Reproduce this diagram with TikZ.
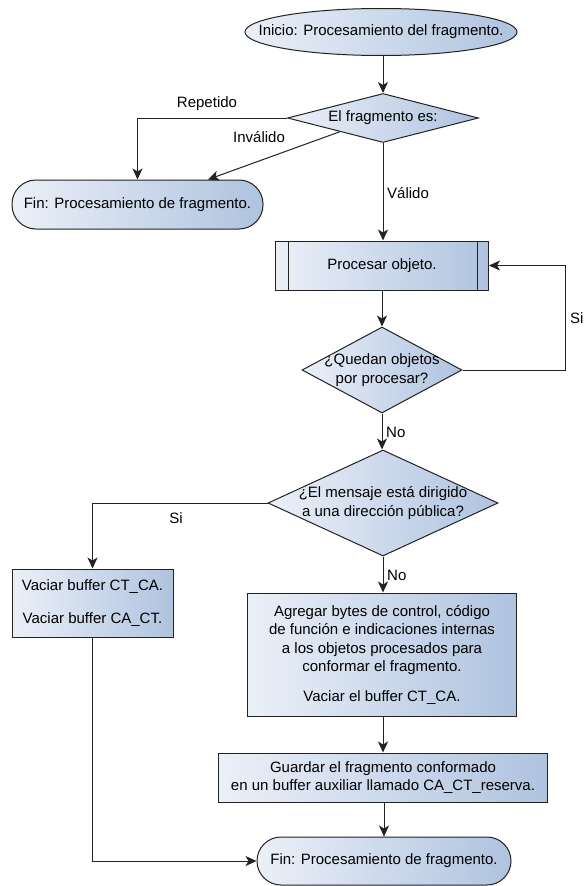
\documentclass[tikz,border=0pt]{standalone}
\usepackage{fontspec}
\setmainfont{Liberation Sans}
\usetikzlibrary{shapes.geometric,arrows.meta,calc}
\definecolor{lc}{HTML}{222222}
\definecolor{fa}{HTML}{EBF0F8}
\definecolor{fb}{HTML}{AFC3DF}
\tikzset{
  shp/.style={draw=lc, line width=1pt, left color=fa, right color=fb, inner sep=0pt, align=center,
    font=\fontsize{15}{18.5}\selectfont},
  boxn/.style={shp, rectangle},
  termn/.style={shp, rectangle, rounded corners=24pt},
  elln/.style={shp, ellipse},
  dian/.style={shp, diamond},
  txt/.style={inner sep=0pt, align=center, font=\fontsize{15}{18.5}\selectfont},
  arr/.style={draw=lc, line width=1pt, -{Stealth[length=11pt,width=10pt,inset=3pt]}},
  lbl/.style={txt}
}
\begin{document}
\begin{tikzpicture}[x=1pt,y=-1pt]
\useasboundingbox[fill=white] (0,0) rectangle (584,886);
% nodes
\node[elln, minimum width=272pt, minimum height=47pt] (start) at (381,32) {};
\node[txt] (startt) at (start) {Inicio: Procesamiento del fragmento.};
\node[dian, minimum width=191pt, minimum height=49pt] (d1) at (383,118) {};
\node[txt] (d1t) at (d1) {El fragmento es:};
\node[termn, minimum width=251pt, minimum height=49pt] (fin1) at (137.5,204.5) {Fin: Procesamiento de fragmento.};
\node[boxn, minimum width=213pt, minimum height=49pt] (proc) at (382,265.5) {Procesar objeto.};
\draw[draw=lc, line width=1pt] ([xshift=13pt]proc.north west) -- ([xshift=13pt]proc.south west)
  ([xshift=-12pt]proc.north east) -- ([xshift=-12pt]proc.south east);
\node[dian, minimum width=160pt, minimum height=86pt] (d2) at (382,370) {};
\node[txt] (d2t) at (d2) {¿Quedan objetos\\por procesar?};
\node[dian, minimum width=230pt, minimum height=106pt] (d3) at (383,503) {};
\node[txt] (d3t) at (d3) {¿El mensaje está dirigido\\a una dirección pública?};
\node[boxn, minimum width=161pt, minimum height=68pt] (vac) at (92.5,603) {Vaciar buffer CT\_CA.\\[15pt]Vaciar buffer CA\_CT.};
\node[boxn, minimum width=269pt, minimum height=123pt] (agr) at (382,654.5) {Agregar bytes de control, código\\de función e indicaciones internas\\a los objetos procesados para\\conformar el fragmento.\\[11pt]Vaciar el buffer CT\_CA.};
\node[boxn, minimum width=329pt, minimum height=49pt] (gua) at (383,777.5) {Guardar el fragmento conformado\\en un buffer auxiliar llamado CA\_CT\_reserva.};
\node[termn, minimum width=254pt, minimum height=48pt] (fin2) at (384,861) {Fin: Procesamiento de fragmento.};
% connectors
\draw[arr] (start.south -| d1.north) -- (d1.north);
\draw[arr] (d1.west) -| (fin1.north);
\coordinate (inv) at ($(d1.west)!0.55!(d1.south)$);
\draw[arr] (inv) -- (fin1.north -| 208,0);
\draw[arr] (d1.south) -- (d1.south |- proc.north);
\draw[arr] (proc.south -| d2.north) -- (d2.north);
\coordinate (loop) at (565,370);
\draw[arr] (d2.east) -- (loop) |- (proc.east);
\draw[arr] (d2.south) -- (d2.south |- d3.north);
\draw[arr] (d3.west) -| (vac.north);
\draw[arr] (d3.south) -- (d3.south |- agr.north);
\draw[arr] (agr.south -| gua.north) -- (gua.north);
\draw[arr] (gua.south -| fin2.north) -- (fin2.north);
\draw[arr] (vac.south) |- (fin2.west);
% labels
\node[lbl] (lrep) at (207,104) {Repetido};
\node[lbl] (linv) at (259,137) {Inválido};
\node[lbl, anchor=west] (lval) at (387,193) {Válido};
\node[lbl, anchor=west] (lsi1) at (570,318) {Si};
\node[lbl, anchor=west] (lno1) at (386,432) {No};
\node[lbl] (lsi2) at (176,518) {Si};
\node[lbl, anchor=west] (lno2) at (387,575) {No};
\end{tikzpicture}
\end{document}
